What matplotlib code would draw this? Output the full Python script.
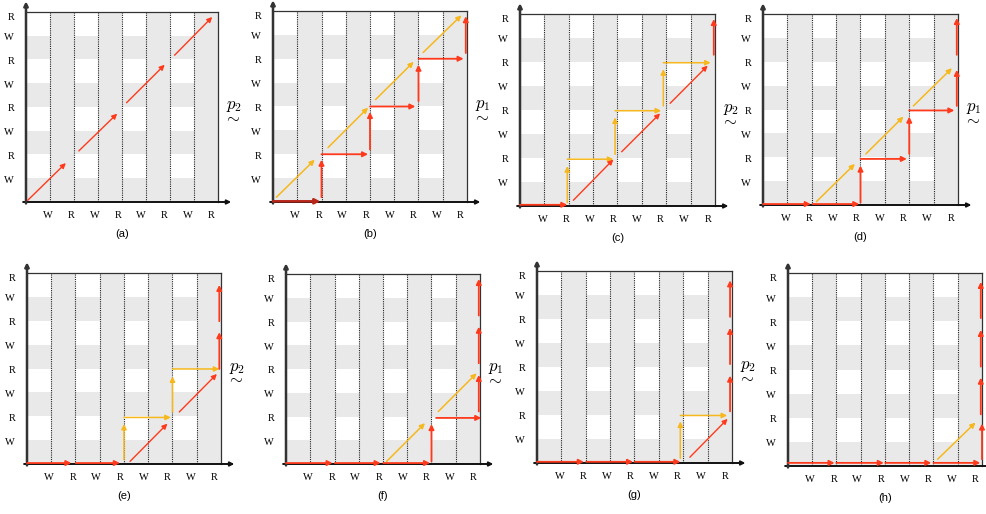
import numpy as np
import matplotlib
matplotlib.use("Agg")
import matplotlib.pyplot as plt

plt.rcParams['mathtext.fontset'] = 'cm'

# grid labels
x_labels = ['W', 'R', 'W', 'R', 'W', 'R', 'W', 'R']
y_labels = ['W', 'R', 'W', 'R', 'W', 'R', 'W', 'R']
captions = ['(a)', '(b)', '(c)', '(d)', '(e)', '(f)', '(g)', '(h)']
side_labels = ['2', '1', '2', '1', '2', '1', '2', None]

# arrows per panel, (x0, y0, x1, y1) in grid cells
red_a = [(0.07, 0.07, 1.66, 1.64), (2.2, 2.15, 3.8, 3.72), (4.19, 4.18, 5.78, 5.78), (6.19, 6.18, 7.76, 7.79)]
yel_a = []
red_b = [(2.0, 0.2, 2.0, 1.77), (2.0, 2.0, 3.92, 2.0), (4.0, 2.2, 4.0, 3.77), (4.0, 4.0, 5.87, 4.0),
         (6.0, 4.23, 6.0, 5.75), (6.0, 6.0, 7.86, 6.0), (7.95, 6.24, 7.95, 7.78)]
yel_b = [(0.14, 0.2, 1.72, 1.77), (2.27, 2.28, 3.92, 3.95), (4.23, 4.29, 5.8, 5.87), (6.19, 6.26, 7.77, 7.82)]
red_c = [(0.0, 0.05, 1.94, 0.05), (2.19, 0.24, 3.83, 1.94), (4.17, 2.26, 5.75, 3.86), (6.16, 4.28, 7.7, 5.85),
         (7.95, 6.3, 7.95, 7.79)]
yel_c = [(1.94, 0.14, 1.94, 1.66), (1.94, 1.95, 3.83, 1.95), (3.9, 2.15, 3.9, 3.69), (3.9, 3.97, 5.79, 3.97),
         (5.88, 4.17, 5.88, 5.7), (5.88, 5.97, 7.82, 5.97)]
red_d = [(0.0, 0.04, 1.96, 0.04), (2.03, 0.04, 3.95, 0.04), (4.0, 0.1, 4.0, 1.65), (4.0, 1.93, 5.9, 1.93),
         (6.0, 2.14, 6.0, 3.7), (6.0, 3.96, 7.85, 3.96), (7.95, 4.15, 7.95, 5.66), (7.95, 6.29, 7.95, 7.83)]
yel_d = [(2.19, 0.14, 3.77, 1.72), (4.22, 2.14, 5.76, 3.7), (6.17, 4.15, 7.75, 5.73)]
red_e = [(0.0, 0.04, 1.83, 0.04), (2.01, 0.04, 3.83, 0.04), (4.25, 0.11, 5.79, 1.69), (6.28, 2.18, 7.83, 3.77),
         (7.93, 3.98, 7.93, 5.52), (7.93, 5.98, 7.93, 7.5)]
yel_e = [(4.0, 0.18, 4.0, 1.68), (4.0, 1.95, 5.93, 1.95), (6.0, 2.18, 6.0, 3.67), (6.0, 3.98, 7.93, 3.98)]
red_f = [(0.0, 0.04, 1.92, 0.04), (2.02, 0.04, 3.9, 0.04), (4.01, 0.04, 5.94, 0.04), (6.0, 0.11, 6.0, 1.68),
         (6.19, 1.94, 8.05, 1.94), (7.95, 2.21, 7.95, 3.75), (7.95, 4.24, 7.95, 5.78), (7.95, 6.25, 7.95, 7.79)]
yel_f = [(4.15, 0.11, 5.73, 1.72), (6.28, 2.21, 7.86, 3.82)]
red_g = [(0.0, 0.05, 1.92, 0.05), (2.02, 0.05, 3.94, 0.05), (4.0, 0.05, 5.88, 0.05), (6.27, 0.24, 7.82, 1.84),
         (7.92, 2.15, 7.92, 3.64), (7.92, 4.12, 7.92, 5.63), (7.92, 6.09, 7.92, 7.61)]
yel_g = [(5.88, 0.2, 5.88, 1.73), (5.88, 1.98, 7.8, 1.98)]
red_h = [(0.0, 0.13, 1.92, 0.13), (1.99, 0.13, 3.95, 0.13), (4.01, 0.13, 5.91, 0.13), (6.0, 0.13, 7.93, 0.13),
         (8.0, 0.28, 8.0, 1.76), (7.95, 2.14, 7.95, 3.66), (7.95, 4.12, 7.95, 5.64), (7.95, 6.13, 7.95, 7.63)]
yel_h = [(6.17, 0.28, 7.73, 1.8)]

reds = [red_a, red_b, red_c, red_d, red_e, red_f, red_g, red_h]
yellows = [yel_a, yel_b, yel_c, yel_d, yel_e, yel_f, yel_g, yel_h]

# panel boxes in pixels: left, top, right, bottom
boxes = [(26, 12, 218, 202), (273, 11, 467, 202), (520, 14, 715, 206), (763, 14, 958, 205),
         (27, 273, 221, 464), (286, 274, 480, 464), (537, 271, 732, 463), (788, 273, 982, 466)]

W, H = 987, 514
RED = '#ff3a1c'
YEL = '#f6b81c'
GRAY = '#e9e9e9'

fig = plt.figure(figsize=(W / 100, H / 100), dpi=100)


def arrow(ax, seg, color, lw):
    x0, y0, x1, y1 = seg
    ax.annotate('', xy=(x1, y1), xytext=(x0, y0),
                arrowprops=dict(arrowstyle='-|>', color=color, lw=lw, mutation_scale=7.5,
                                shrinkA=0, shrinkB=0), annotation_clip=False)


for i, (l, t, r, b) in enumerate(boxes):
    ax = fig.add_axes([l / W, 1 - b / H, (r - l) / W, (b - t) / H])
    ax.set_xlim(0, 8)
    ax.set_ylim(0, 8)
    for c in range(1, 8, 2):
        ax.axvspan(c, c + 1, color=GRAY, lw=0, zorder=0)
    for rr in range(0, 8, 2):
        ax.axhspan(rr, rr + 1, color=GRAY, lw=0, zorder=0)
    for c in range(1, 8):
        ax.axvline(c, color='#222222', ls=(0, (1, 1)), lw=0.8, zorder=1)
    for s in ['left', 'bottom']:
        ax.spines[s].set_visible(False)
    for s in ['top', 'right']:
        ax.spines[s].set_color('#333333')
        ax.spines[s].set_linewidth(0.9)

    # axes with arrow heads
    ax.annotate('', xy=(8.55, 0), xytext=(-0.12, 0),
                arrowprops=dict(arrowstyle='-|>', color='#111111', lw=1.4, mutation_scale=6,
                                shrinkA=0, shrinkB=0), annotation_clip=False)
    ax.annotate('', xy=(0, 8.45), xytext=(0, -0.06),
                arrowprops=dict(arrowstyle='-|>', color='#333333', lw=1.8, mutation_scale=6,
                                shrinkA=0, shrinkB=0), annotation_clip=False)

    k = np.arange(1, 9)
    ax.set_xticks(k * 0.97 - 0.05, x_labels, family='Liberation Serif', fontsize=7.5)
    ax.set_yticks(np.minimum(k - 0.04, 7.82), y_labels, family='Liberation Serif', fontsize=7.5)
    ax.tick_params(length=0, pad=6.5)
    ax.tick_params(axis='y', pad=8.5)

    for seg in yellows[i]:
        arrow(ax, seg, YEL, 1.1)
    for seg in reds[i]:
        diag = seg[0] != seg[2] and seg[1] != seg[3]
        arrow(ax, seg, RED, 1.0 if diag else 1.3)
    if i == 1:
        arrow(ax, (0.0, 0.03, 1.95, 0.03), '#b8261a', 1.8)

    fig.text((l + r) / 2 / W, 1 - (b + 32) / H, captions[i], ha='center', va='center',
             family='Liberation Sans', fontsize=8)
    if side_labels[i] is not None:
        my = (t + b) / 2
        fig.text((r + 8) / W, 1 - (my - 2) / H, r'$p_{%s}$' % side_labels[i],
                 ha='left', va='center', fontsize=12)
        fig.text((r + 14) / W, 1 - (my + 9) / H, r'$\sim$',
                 ha='center', va='center', fontsize=12)

fig.savefig('out.png', dpi=100)
